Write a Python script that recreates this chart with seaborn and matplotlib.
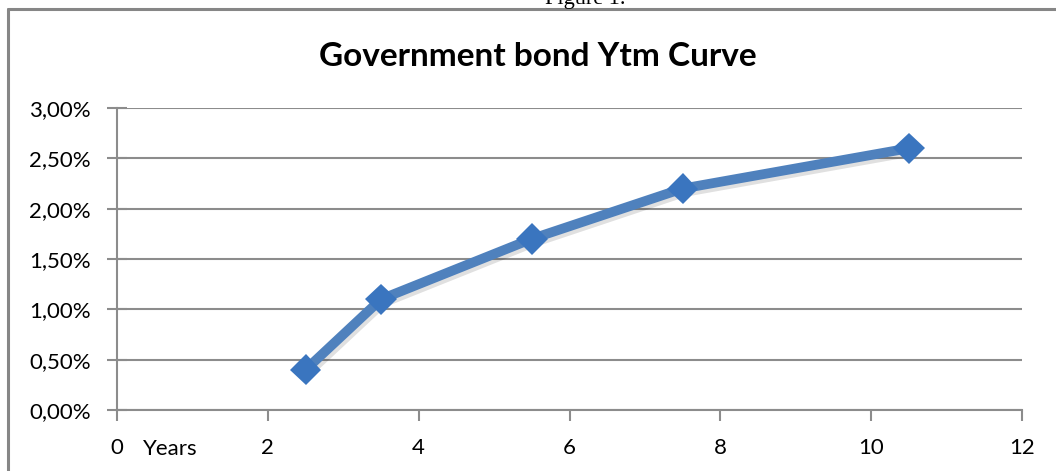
import matplotlib
matplotlib.use("Agg")
import matplotlib.pyplot as plt
import matplotlib.patheffects as pe
from matplotlib.ticker import FuncFormatter, MultipleLocator
import seaborn as sns
import pandas as pd

# data
years = [2.5, 3.5, 5.5, 7.5, 10.5]
ytm = [0.004, 0.011, 0.017, 0.022, 0.026]

df = pd.DataFrame({"Years": years, "Ytm": ytm})

sns.set_style("white")
plt.rcParams["font.family"] = ["Lato", "DejaVu Sans"]
plt.rcParams["text.color"] = "black"
plt.rcParams["xtick.labelcolor"] = "black"
plt.rcParams["ytick.labelcolor"] = "black"

fig = plt.figure(figsize=(10.56, 4.71), dpi=100)
ax = fig.add_axes([117 / 1056, 1 - 410 / 471, (1022 - 117) / 1056, (410 - 108) / 471])

# chart border (right edge cut off in the reference)
fig.add_artist(plt.Line2D([8 / 1056, 8 / 1056], [0, 1 - 9 / 471], color="#868686", lw=2.2,
                          transform=fig.transFigure))
fig.add_artist(plt.Line2D([8 / 1056, 1], [1 - 9 / 471, 1 - 9 / 471], color="#868686", lw=2.2,
                          transform=fig.transFigure))

line_color = "#4F81BD"
sns.lineplot(data=df, x="Years", y="Ytm", ax=ax, color=line_color, linewidth=7,
             marker="D", markersize=16, markerfacecolor="#3A75BF", markeredgewidth=0,
             path_effects=[pe.SimpleLineShadow(offset=(1.5, -2.5), alpha=0.12), pe.Normal()])

ax.set_xlim(0, 12)
ax.set_ylim(0, 0.03)
ax.xaxis.set_major_locator(MultipleLocator(2))
ax.yaxis.set_major_locator(MultipleLocator(0.005))
ax.yaxis.set_major_formatter(FuncFormatter(lambda v, p: f"{v * 100:.2f}%".replace(".", ",")))

ax.grid(axis="y", color="#8C8C8C", linewidth=1.5)
ax.set_axisbelow(True)
for s in ["top", "right"]:
    ax.spines[s].set_visible(False)
for s in ["left", "bottom"]:
    ax.spines[s].set_color("#8C8C8C")
    ax.spines[s].set_linewidth(1.5)

ax.tick_params(axis="y", direction="inout", length=14, width=1.5, color="#8C8C8C",
               labelsize=16, pad=12, left=True, labelcolor="black")
ax.tick_params(axis="x", direction="out", length=8, width=1.5, color="#8C8C8C",
               labelsize=16, pad=12, bottom=True, labelcolor="black")
ax.set_xlabel("")
ax.set_ylabel("")

fig.text(538 / 1056, 1 - 57 / 471, "Government bond Ytm Curve", ha="center", va="center",
         fontsize=24, fontweight="bold", color="black")
fig.text(143 / 1056, 1 - 449 / 471, "Years", ha="left", va="center", fontsize=16, color="black")
fig.text(585 / 1056, 1 - 4 / 471, "Figure 1.", ha="center", va="baseline", fontsize=16,
         family=["Liberation Serif"], color="black")

fig.savefig("out.png", dpi=100)
